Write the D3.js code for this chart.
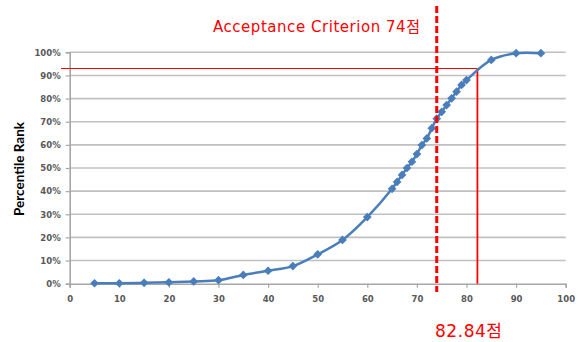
<!DOCTYPE html>
<html><head><meta charset="utf-8">
<script src="https://cdn.jsdelivr.net/npm/d3@7"></script>
<style>body{margin:0;background:#fff}svg{display:block}</style>
</head><body>
<script>
const scores = [5,10,15,20,25,30,35,40,45,50,55,60,65,66,67,68,69,70,71,72,73,74,75,76,77,78,79,80,85,90,95];
const percentiles = [0.2,0.2,0.4,0.6,1.0,1.5,3.8,5.6,7.6,12.7,18.9,28.8,41.0,44.0,47.0,50.0,52.7,56.0,59.9,62.8,67.2,71.3,74.3,77.2,80.1,83.0,85.9,88.0,96.7,99.6,99.6];
const xTicks = [0,10,20,30,40,50,60,70,80,90,100];
const yTicks = [0,10,20,30,40,50,60,70,80,90,100];
const criterion = 74;
const crossX = 82.2;      // position
const crossY = 93.0;
const titleText = "Acceptance Criterion 74점";
const crossLabel = "82.84점";
const yTitle = "Percentile Rank";

const W = 581, H = 342;
const svg = d3.select("body").append("svg").attr("width", W).attr("height", H);
const x = d3.scaleLinear().domain([0,100]).range([69.7,565.7]);
const y = d3.scaleLinear().domain([0,100]).range([283.7,52.3]);

// gridlines
svg.append("g").selectAll("line").data(yTicks.filter(d=>d>0)).join("line")
  .attr("x1", x(0)).attr("x2", x(100)).attr("y1", d=>y(d)).attr("y2", d=>y(d))
  .attr("stroke","#c0c0c0").attr("stroke-width",1.6);

// axes
const yAxis = d3.axisLeft(y).tickValues(yTicks).tickFormat(d=>d+"%").tickSize(4).tickPadding(5);
const gy = svg.append("g").attr("transform",`translate(${x(0)},0)`).call(yAxis);
const xAxis = d3.axisBottom(x).tickValues(xTicks).tickSize(4).tickPadding(8);
const gx = svg.append("g").attr("transform",`translate(0,${y(0)})`).call(xAxis);
[gx,gy].forEach(g=>{
  g.select(".domain").attr("stroke","#a6a6a6").attr("stroke-width",1.6);
  g.selectAll(".tick line").attr("stroke","#a6a6a6").attr("stroke-width",1.2);
  g.selectAll("text").attr("fill","#595959").attr("font-family","'DejaVu Sans', sans-serif")
    .attr("font-size",8.5).attr("font-weight","bold");
});

// y title
svg.append("text").attr("transform","translate(24,169) rotate(-90)")
  .attr("text-anchor","middle").attr("font-family","Lato, 'Open Sans', sans-serif")
  .attr("font-weight","bold").attr("font-size",13.5).attr("fill","#000").text(yTitle);

// red crossing lines
const cx = x(crossX), cy = Math.round(y(crossY)) + 0.5;
svg.append("line").attr("x1",61).attr("x2",cx).attr("y1",cy).attr("y2",cy)
  .attr("stroke","#ff0000").attr("stroke-width",1.2);
svg.append("line").attr("x1",cx).attr("x2",cx).attr("y1",cy).attr("y2",y(0))
  .attr("stroke","#ff0000").attr("stroke-width",1.8);

// series
const line = d3.line().x((d,i)=>x(scores[i])).y(d=>y(d)).curve(d3.curveCatmullRom.alpha(0.5));
svg.append("path").datum(percentiles).attr("d",line).attr("fill","none")
  .attr("stroke","#4a7ebb").attr("stroke-width",2.5);
svg.append("g").selectAll("path").data(percentiles).join("path")
  .attr("transform",(d,i)=>`translate(${x(scores[i])},${y(d)}) rotate(45)`)
  .attr("d", d3.symbol(d3.symbolSquare, 38)())
  .attr("fill","#4a7ebb");

// dashed criterion line
svg.append("line").attr("x1",x(criterion)).attr("x2",x(criterion)).attr("y1",6).attr("y2",292)
  .attr("stroke","#ff0000").attr("stroke-width",3).attr("stroke-dasharray","7,3");

// labels
svg.append("text").attr("x",213).attr("y",32).attr("fill","#ff0000")
  .attr("font-family","'DejaVu Sans', 'Noto Sans CJK KR', sans-serif").attr("font-size",15)
  .attr("textLength",207).attr("lengthAdjust","spacing").text(titleText);
svg.append("text").attr("x",435).attr("y",337).attr("fill","#ff0000")
  .attr("font-family","'DejaVu Sans', 'Noto Sans CJK KR', sans-serif").attr("font-size",17)
  .attr("textLength",67).attr("lengthAdjust","spacing").text(crossLabel);
</script>
</body></html>
